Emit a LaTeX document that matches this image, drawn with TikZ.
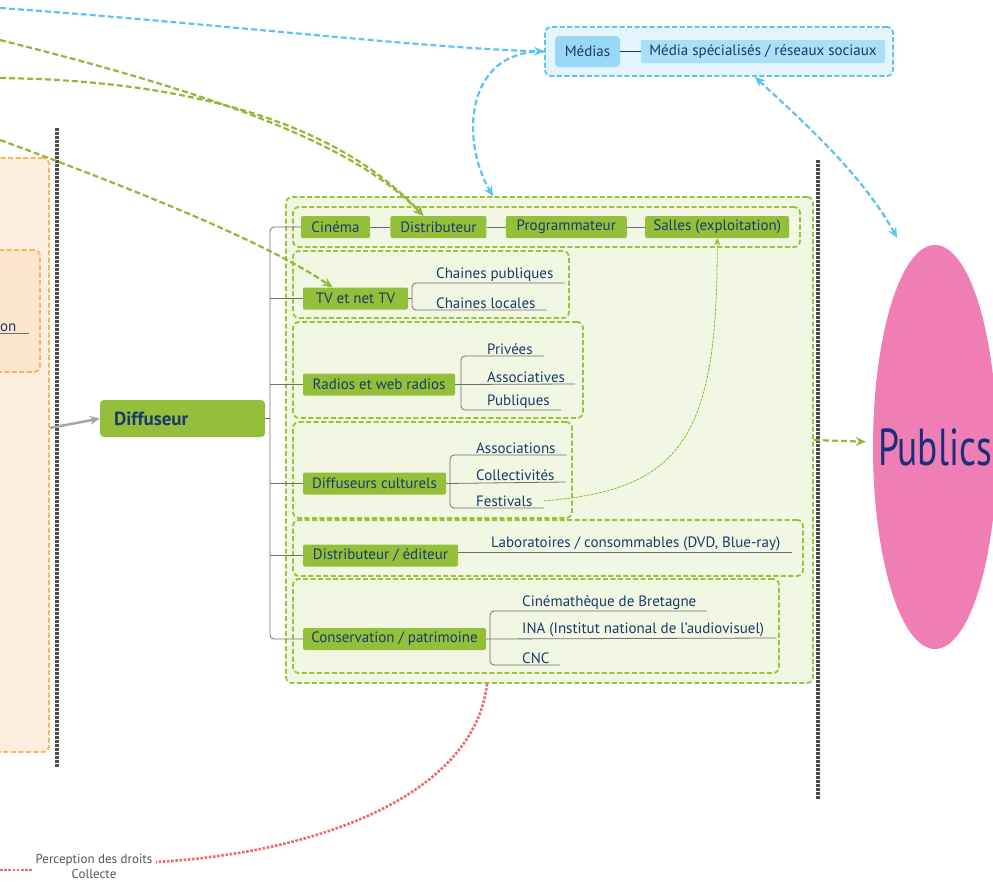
\documentclass[tikz,border=0pt]{standalone}
\usepackage{fontspec}
\setmainfont{PT Sans}
\usetikzlibrary{positioning,arrows.meta,fit,calc,backgrounds,shapes.geometric}
\definecolor{cLeaf}   {HTML}{94BF3A}
\definecolor{cInk}    {HTML}{1B3A6B}
\definecolor{cGrp}    {HTML}{9AC23C}
\definecolor{cGrpBg}  {HTML}{F1F7E2}
\definecolor{cSky}    {HTML}{5CC4F0}
\definecolor{cSkyBg}  {HTML}{E3F4FC}
\definecolor{cSkyA}   {HTML}{99D8F5}
\definecolor{cSkyB}   {HTML}{AADFF7}
\definecolor{cOr}     {HTML}{F7B55E}
\definecolor{cOrBg}   {HTML}{FCEFDF}
\definecolor{cOrBgB}  {HTML}{FDE6CD}
\definecolor{cDot}    {HTML}{4D4D4D}
\definecolor{cTree}   {HTML}{707070}
\definecolor{cRed}    {HTML}{EF6A6A}
\definecolor{cPink}   {HTML}{EF7EB5}
\definecolor{cPubInk} {HTML}{1A2F7A}
\definecolor{cGray}   {HTML}{A6A6A6}
\definecolor{cNote}   {HTML}{555555}
\newcommand\fsA{\fontsize{15}{17}\selectfont}
\newcommand\fsB{\fontsize{19}{22}\selectfont}
\tikzset{
  >={Stealth[length=10pt,width=9pt]},
  cat/.style={fill=cLeaf,rounded corners=2pt,text=cInk,font=\fsA,inner xsep=4pt,
              minimum height=22pt},
  leaf/.style={text=cInk,font=\fsA,inner xsep=0pt,inner ysep=1.5pt,anchor=south west},
  grp/.style={draw=cGrp,fill=cGrpBg,dash pattern=on 5pt off 2.5pt,line width=1.8pt,
              rounded corners=6pt,inner sep=0pt},
  skygrp/.style={grp,draw=cSky,fill=cSkyBg},
  orgrp/.style={grp,draw=cOr,fill=cOrBg},
  tree/.style={draw=cTree,line width=0.8pt},
  vsep/.style={draw=cDot,line width=3.5pt,dash pattern=on 2.5pt off 1.5pt},
  bln/.style={->,draw=cSky,line width=2.2pt,dash pattern=on 6pt off 3pt},
  gln/.style={->,draw=cGrp!95!black,line width=2.2pt,dash pattern=on 6pt off 3pt},
  gthin/.style={->,draw=cGrp!95!black,line width=0.8pt,dash pattern=on 3pt off 1pt,
                >={Stealth[length=7pt,width=6pt]}},
  rln/.style={draw=cRed,line width=2.6pt,dash pattern=on 2.6pt off 1.6pt},
  garr/.style={->,draw=cGray,line width=2.5pt},
}
\begin{document}
\begin{tikzpicture}[x=1pt,y=-1pt]
  \useasboundingbox (0,0) rectangle (993,886);
  \clip (0,0) rectangle (993,886);

  % left side (cut by the page)
  \node[orgrp,fit={(-20,158) (49,752)}] (prod) {};
  \node[orgrp,fill=cOrBgB,fit={(-20,250) (40,372)}] (prodin) {};
  \node[leaf] (on) at (0,333) {on};
  \draw[tree] ([xshift=-5pt]on.south west) -- ([xshift=12pt]on.south east);

  \draw[vsep] (57,128) -- (57,768);
  \draw[vsep] (818,160) -- (818,800);

  % groups
  \node[grp,fit={(286,197) (813,683)}] (big) {};
  \node[grp,fit={(293,207) (800,247)}] (gcin) {};
  \node[grp,fit={(293,251) (569,318)}] (gtv) {};
  \node[grp,fit={(293,322) (583,418)}] (grad) {};
  \node[grp,fit={(293,422) (572,518)}] (gcul) {};
  \node[grp,fit={(293,520) (803,576)}] (gded) {};
  \node[grp,fit={(293,579) (779,673)}] (gcons) {};

  \node[skygrp,fit={(545,27) (893,76)}] (mgrp) {};

  % diffuseur
  \node[cat,font=\fsB\bfseries,rounded corners=4pt,text width=137pt,align=left,
        inner xsep=14pt,minimum height=37pt] (diff) at (182.5,418.5) {Diffuseur};
  \draw[garr] ([yshift=27pt]prod.east) -- (diff.west);

  % categories
  \node[cat,minimum width=69pt] (cin) at (335.5,227) {Cinéma};
  \node[cat,minimum width=96pt,right=20pt of cin] (dis) {Distributeur};
  \node[cat,minimum width=121pt,right=19pt of dis] (prg) {Programmateur};
  \node[cat,minimum width=144pt,right=18pt of prg] (sal) {Salles (exploitation)};
  \draw[tree] (cin) -- (dis) (dis) -- (prg) (prg) -- (sal);

  \node[cat,minimum width=105pt] (tv)   at (355.5,298.5) {TV et net TV};
  \node[cat,minimum width=152pt] (rad)  at (379,384.5)   {Radios et web radios};
  \node[cat,minimum width=143pt] (dcul) at (374.5,483.5) {Diffuseurs culturels};
  \node[cat,minimum width=155pt] (ded)  at (380.5,555.5) {Distributeur / éditeur};
  \node[cat,minimum width=183pt] (cons) at (394.5,639)   {Conservation / patrimoine};

  \coordinate (trunk) at (270,0);
  \draw[tree,rounded corners=4pt] (cin.west) -| (trunk |- cons.west) -- (cons.west);
  \foreach \n in {tv,rad,dcul,ded}
    \draw[tree] (trunk |- \n.west) -- (\n.west);
  \draw[tree] (diff.east) -- (diff.east -| trunk);

  % TV
  \coordinate (tvb) at (412,0);
  \node[leaf] (cpub) at (436,283) {Chaines publiques};
  \node[leaf] (cloc) at (436,310) {Chaines locales};
  \draw[tree] (tv.east) -- (tv.east -| tvb);
  \draw[tree,rounded corners=4pt] ([xshift=11pt]cpub.south east) -- (cpub.south -| tvb)
    -- (cloc.south -| tvb) -- ([xshift=11pt]cloc.south east);

  % radios
  \coordinate (radb) at (461,0);
  \node[leaf] (rpri) at (487,356) {Privées};
  \node[leaf] (rass) at (487,384) {Associatives};
  \node[leaf] (rpub) at (487,410) {Publiques};
  \draw[tree] (rad.east) -- ([xshift=10pt]rass.south east);
  \draw[tree,rounded corners=4pt] ([xshift=11pt]rpri.south east) -- (rpri.south -| radb)
    -- (rpub.south -| radb) -- ([xshift=11pt]rpub.south east);

  % diffuseurs culturels
  \coordinate (culb) at (450,0);
  \node[leaf] (dass) at (476,455) {Associations};
  \node[leaf] (dcol) at (476,482) {Collectivités};
  \node[leaf] (fest) at (476,508) {Festivals};
  \draw[tree] (dcul.east) -- ([xshift=11pt]dcol.south east);
  \draw[tree,rounded corners=4pt] ([xshift=11pt]dass.south east) -- (dass.south -| culb)
    -- (fest.south -| culb) -- ([xshift=11pt]fest.south east);

  % distributeur / editeur
  \node[leaf] (lab) at (491,552) {Laboratoires / consommables (DVD, Blue-ray)};
  \draw[tree] (ded.east |- lab.south) -- ([xshift=12pt]lab.south east);

  % conservation
  \coordinate (consb) at (490,0);
  \node[leaf] (cbre) at (522,611) {Cinémathèque de Bretagne};
  \node[leaf] (cina) at (522,638) {INA (Institut national de l'audiovisuel)};
  \node[leaf] (ccnc) at (522,665) {CNC};
  \draw[tree] (cons.east) -- ([xshift=12pt]cina.south east);
  \draw[tree,rounded corners=4pt] ([xshift=10pt]cbre.south east) -- (cbre.south -| consb)
    -- (ccnc.south -| consb) -- ([xshift=10pt]ccnc.south east);

  % medias
  \node[cat,fill=cSkyA,rounded corners=4pt,minimum width=65pt,minimum height=31pt]
       (med) at (587.5,51.5) {Médias};
  \node[cat,fill=cSkyB,minimum width=244pt,minimum height=23pt]
       (mspec) at (763,51.5) {Média spécialisés / réseaux sociaux};
  \draw[cInk,line width=1pt] (med) -- (mspec);

  % publics
  \node[ellipse,fill=cPink,minimum width=124pt,minimum height=404pt,inner sep=0pt]
       (pub) at (935,447) {};
  \node[text=cPubInk,font=\fontsize{52}{54}\selectfont] (publbl) at (pub.center)
       {\scalebox{0.72}[1]{Publics}};

  % links
  \coordinate (bfree) at (0,8);
  \coordinate (pubtop) at ([xshift=-38pt,yshift=7pt]pub.north);
  \draw[bln] (bfree) .. controls (200,22) and (420,48) .. (mgrp.west);
  \draw[bln] (mgrp.west) .. controls (465,50) and (460,140) .. ([xshift=-56.5pt]big.north);
  \draw[bln,<->] ([xshift=36pt]mgrp.south) .. controls (790,110) and (860,170) .. (pubtop);

  \coordinate (gfreeA) at (0,40);
  \coordinate (gfreeB) at (0,78);
  \coordinate (gfreeC) at (0,140);
  \draw[gln] (gfreeA) .. controls (200,90) and (350,140) .. ([xshift=-15pt]dis.north);
  \draw[gln] (gfreeB) .. controls (170,80) and (330,115) .. ([xshift=-15pt]dis.north);
  \draw[gln] (gfreeC) .. controls (150,195) and (270,245) .. ([xshift=-23pt]tv.north);
  \draw[gthin] ([xshift=11pt]fest.east) .. controls (680,490) and (718,440) .. (sal.south);
  \draw[gln,shorten >=7pt] (big.east) -- ([yshift=5pt]pub.west);

  \node[text=cNote,align=center,font=\fontsize{13}{15}\selectfont] (perc) at (94,866)
       {Perception des droits\\Collecte};
  \coordinate (rfree) at (0,870);
  \draw[rln] ([xshift=-62.5pt]big.south) .. controls (475,790) and (330,852) ..
       ([yshift=4pt]perc.east);
  \draw[rln] ([yshift=-4pt]perc.west) -- (rfree);
\end{tikzpicture}
\end{document}
